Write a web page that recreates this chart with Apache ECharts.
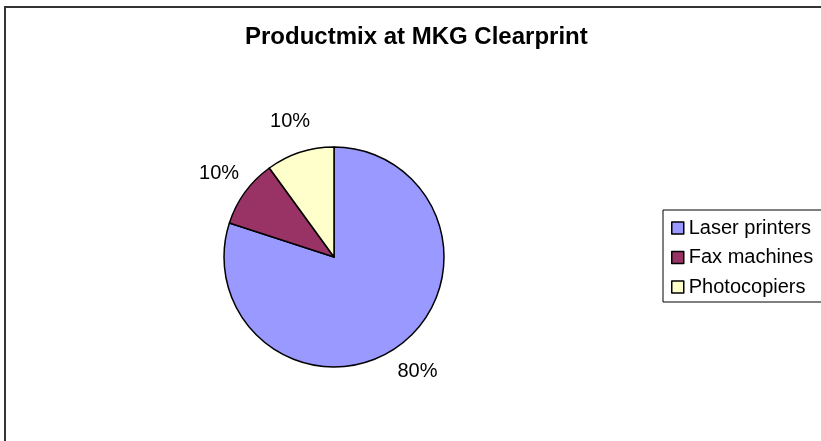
<!DOCTYPE html>
<html>
<head>
<meta charset="utf-8">
<script src="https://cdn.jsdelivr.net/npm/echarts@6/dist/echarts.min.js"></script>
<style>
html,body{margin:0;padding:0;background:#fff;}
#chart{width:821px;height:441px;}
</style>
</head>
<body>
<div id="chart"></div>
<script>
const categories = ['Laser printers', 'Fax machines', 'Photocopiers'];
const values = [80, 10, 10];
const colors = ['#9999FF', '#993366', '#FFFFCC'];
const titleText = 'Productmix at MKG Clearprint';

const pieData = categories.map((c, i) => ({ name: c, value: values[i], itemStyle: { color: colors[i] } }));
const labelData = categories.map((c, i) => ({ name: c, value: values[i] }));

const chart = echarts.init(document.getElementById('chart'), null, { renderer: 'canvas' });
chart.setOption({
  backgroundColor: '#ffffff',
  animation: false,
  graphic: [{
    type: 'rect',
    shape: { x: 5, y: 7, width: 840, height: 460 },
    style: { fill: 'none', stroke: '#333333', lineWidth: 2 },
    silent: true
  }],
  title: {
    text: titleText,
    left: 245,
    top: 25,
    padding: 0,
    textStyle: { fontFamily: 'Liberation Sans, Arial, sans-serif', fontSize: 24, fontWeight: 'bold', color: '#000', lineHeight: 24 }
  },
  legend: {
    data: categories,
    orient: 'vertical',
    left: 663,
    top: 210,
    padding: [8, 14, 5, 8],
    itemWidth: 12,
    itemHeight: 12,
    itemGap: 9.5,
    icon: 'rect',
    borderColor: '#000',
    borderWidth: 1,
    itemStyle: { borderColor: '#000', borderWidth: 1.5 },
    textStyle: { fontFamily: 'Liberation Sans, Arial, sans-serif', fontSize: 20, color: '#000', lineHeight: 20, padding: [0, 0, 0, 0] }
  },
  series: [
    {
      type: 'pie',
      center: [334, 257],
      radius: 110,
      startAngle: 90,
      clockwise: true,
      data: pieData,
      label: { show: false },
      labelLine: { show: false },
      itemStyle: { borderColor: '#000', borderWidth: 1.5 },
      emphasis: { disabled: true }
    },
    {
      type: 'pie',
      center: [334, 257],
      radius: [120, 158],
      startAngle: 90,
      clockwise: true,
      silent: true,
      legendHoverLink: false,
      data: labelData,
      itemStyle: { color: 'rgba(0,0,0,0)', borderWidth: 0 },
      label: {
        show: true,
        position: 'inside',
        formatter: p => Math.round(p.percent) + '%',
        fontFamily: 'Liberation Sans, Arial, sans-serif',
        fontSize: 20,
        color: '#000'
      },
      labelLine: { show: false },
      emphasis: { disabled: true }
    }
  ]
});
</script>
</body>
</html>
